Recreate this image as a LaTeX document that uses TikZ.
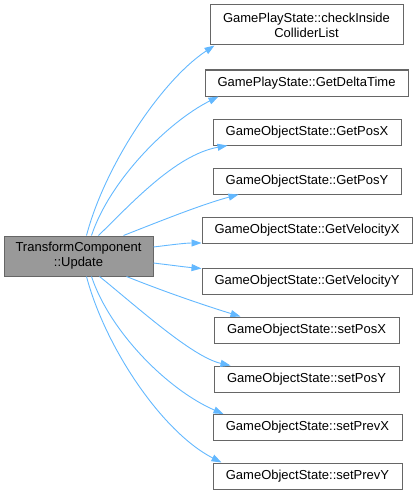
\documentclass[tikz,border=0pt]{standalone}
\usepackage{fontspec}
\setmainfont{Liberation Sans}
\usetikzlibrary{arrows.meta}
\definecolor{edgeblue}{HTML}{63B8FF}
\definecolor{boxborder}{HTML}{666666}
\definecolor{srcfill}{HTML}{999999}
\begin{document}
\begin{tikzpicture}[x=1pt,y=-1pt,
  box/.style={draw=boxborder, fill=white, line width=1pt, inner sep=0pt,
    minimum height=26pt, align=center, font=\fontsize{13}{15}\selectfont},
  srcbox/.style={box, fill=srcfill, minimum height=40pt, minimum width=149pt},
  call/.style={draw=edgeblue, line width=0.9pt, -{Triangle[length=10pt,width=7pt]}}]
\useasboundingbox (0,0) rectangle (417,495);
\node[srcbox] (src) at (78.5,256) {TransformComponent\\::Update};
\node[box, minimum width=193pt, minimum height=40pt] (t1) at (306.5,25) {GamePlayState::checkInside\\ColliderList};
\node[box, minimum width=203pt] (t2) at (306.5,83) {GamePlayState::GetDeltaTime};
\node[box, minimum width=188pt] (t3) at (307,132) {GameObjectState::GetPosX};
\node[box, minimum width=188pt] (t4) at (307,181) {GameObjectState::GetPosY};
\node[box, minimum width=210pt] (t5) at (307,230.5) {GameObjectState::GetVelocityX};
\node[box, minimum width=210pt] (t6) at (307,281) {GameObjectState::GetVelocityY};
\node[box, minimum width=185pt] (t7) at (306.5,330) {GameObjectState::setPosX};
\node[box, minimum width=185pt] (t8) at (306.5,379) {GameObjectState::setPosY};
\node[box, minimum width=189pt] (t9) at (307.5,427.5) {GameObjectState::setPrevX};
\node[box, minimum width=189pt] (t10) at (307.5,476) {GameObjectState::setPrevY};
% upper calls
\draw[call] ([xshift=83pt]src.north west) .. controls (105,165) and (162,80) .. ([xshift=5pt]t1.south west);
\draw[call] ([xshift=88pt]src.north west) .. controls (110,180) and (168,122) .. ([xshift=14pt]t2.south west);
\draw[call] ([xshift=95pt]src.north west) .. controls (130,205) and (175,155) .. ([xshift=15pt]t3.south west);
\draw[call] ([xshift=120pt]src.north west) .. controls (158,222) and (200,205) .. ([xshift=26pt]t4.south west);
% side calls
\draw[call] ([yshift=9pt]src.east) .. controls (170,245) and (185,243) .. ([yshift=1pt]t5.south west);
\draw[call] ([yshift=-7pt]src.east) .. controls (170,265) and (185,267) .. ([yshift=-1pt]t6.north west);
% lower calls
\draw[call] ([xshift=123pt]src.south west) .. controls (160,290) and (200,304) .. ([xshift=27pt]t7.north west);
\draw[call] ([xshift=96pt]src.south west) .. controls (135,305) and (192,357) .. ([xshift=17pt]t8.north west);
\draw[call] ([xshift=88pt]src.south west) .. controls (110,332) and (168,390) .. ([xshift=11pt]t9.north west);
\draw[call] ([xshift=83pt]src.south west) .. controls (105,347) and (162,432) .. ([xshift=9pt]t10.north west);
\end{tikzpicture}
\end{document}
